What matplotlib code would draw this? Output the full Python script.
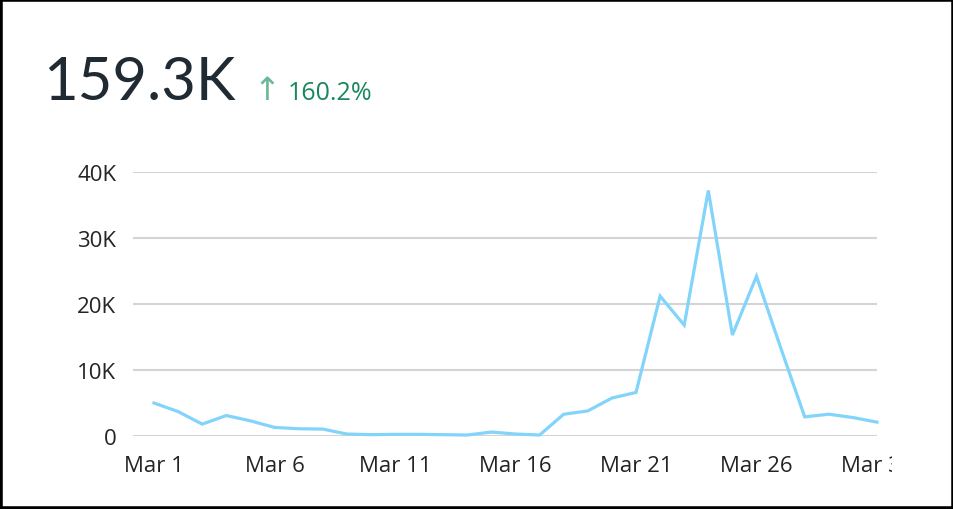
import matplotlib.pyplot as plt
from matplotlib.patches import Rectangle
from matplotlib.transforms import Bbox, TransformedBbox

# daily values for March
days = list(range(1, 32))
values = [5000, 3700, 1800, 3100, 2300, 1300, 1100, 1050, 300, 200,
          250, 250, 200, 150, 600, 300, 150, 3300, 3800, 5750,
          6600, 21200, 16800, 37200, 15300, 24200, 13400, 2900, 3300, 2800,
          2100]
tick_days = [1, 6, 11, 16, 21, 26, 31]
tick_labels = ["Mar 1", "Mar 6", "Mar 11", "Mar 16", "Mar 21", "Mar 26", "Mar 31"]
y_ticks = [0, 10000, 20000, 30000, 40000]
y_labels = ["0", "10K", "20K", "30K", "40K"]
total_label = "159.3K"
change_label = "160.2%"

W, H = 954, 510
fig = plt.figure(figsize=(W / 100, H / 100), dpi=100)
fig.patch.set_facecolor("white")

ax = fig.add_axes([133 / W, (H - 437) / H, (877 - 133) / W, (437 - 173) / H])
ax.plot(days, values, color="#82d4fb", lw=2.3, solid_joinstyle="miter", clip_on=False, zorder=3)
ax.set_xlim(1 - 21 / 24.1, 31)
ax.set_ylim(0, 40000)

ax.set_yticks(y_ticks)
ax.set_yticklabels(y_labels)
ax.set_xticks(tick_days)
ax.set_xticklabels(tick_labels)
ax.grid(axis="y", color="#d4d4d4", lw=1.5)
ax.set_axisbelow(True)
for s in ax.spines.values():
    s.set_visible(False)
ax.tick_params(length=0, labelsize=16, colors="#252423")
ax.tick_params(axis="y", pad=12)
ax.tick_params(axis="x", pad=13.5)
for lab in ax.get_xticklabels() + ax.get_yticklabels():
    lab.set_fontfamily("Open Sans")

# last label is cut off at the visual's edge
clip = TransformedBbox(Bbox([[0, 0], [892 / W, 1]]), fig.transFigure)
last = ax.get_xticklabels()[-1]
last.set_clip_on(True)
last.set_clip_box(clip)

# header KPI
fig.text(43 / W, 1 - 100 / H, total_label, fontsize=43, family="Lato",
         color="#1f2a33", va="baseline", ha="left")
fig.text(253 / W, 1 - 100 / H, "\u2191", fontsize=23, family="DejaVu Sans",
         color="#6cb797", va="baseline", ha="left")
fig.text(288 / W, 1 - 100 / H, change_label, fontsize=18, family="Open Sans",
         color="#19885c", va="baseline", ha="left")

# black frame
fig.patches.append(Rectangle((0, 0), 1, 1, transform=fig.transFigure,
                             fill=False, edgecolor="black", lw=4))

fig.savefig("out.png", dpi=100)
